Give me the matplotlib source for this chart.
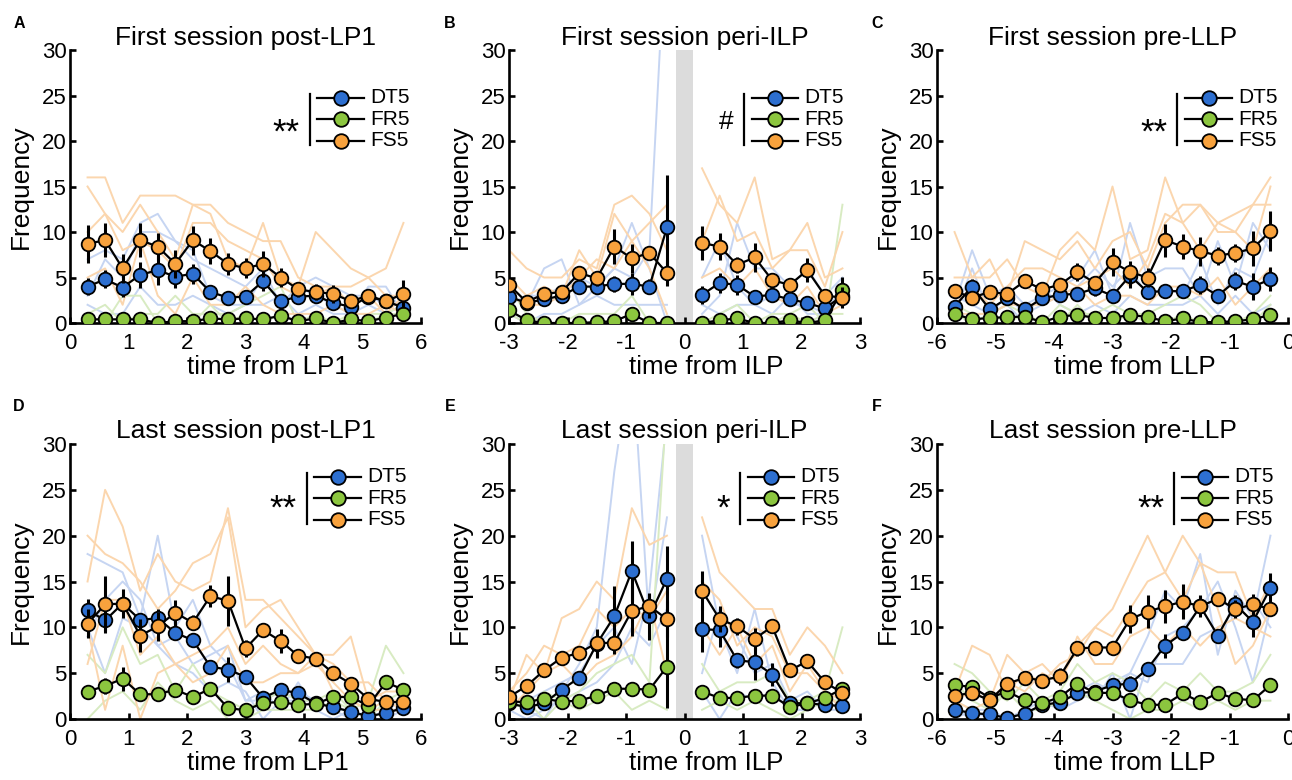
import numpy as np
import matplotlib.pyplot as plt

plt.rcParams['font.family'] = ['Liberation Sans', 'DejaVu Sans']
plt.rcParams['axes.unicode_minus'] = False

# time bins
x_post = [0.3, 0.6, 0.9, 1.2, 1.5, 1.8, 2.1, 2.4, 2.7, 3.0, 3.3, 3.6, 3.9, 4.2, 4.5, 4.8, 5.1, 5.4, 5.7]
x_peri = [-3.0, -2.7, -2.4, -2.1, -1.8, -1.5, -1.2, -0.9, -0.6, -0.3,
          0.3, 0.6, 0.9, 1.2, 1.5, 1.8, 2.1, 2.4, 2.7]
x_pre = [-5.7, -5.4, -5.1, -4.8, -4.5, -4.2, -3.9, -3.6, -3.3, -3.0,
         -2.7, -2.4, -2.1, -1.8, -1.5, -1.2, -0.9, -0.6, -0.3]

groups = ['DT5', 'FR5', 'FS5']

# ---- A: first session post-LP1
A_dt5 = [4.0, 4.8, 3.9, 5.3, 5.8, 5.1, 5.4, 3.4, 2.8, 2.9, 4.6, 2.4, 2.9, 3.0, 2.2, 1.8, 2.9, 2.4, 1.7]
A_dt5_sem = [0.9, 1.0, 1.0, 1.4, 1.6, 1.2, 1.1, 0.5, 0.5, 0.5, 1.1, 0.5, 0.6, 0.6, 0.7, 0.5, 0.5, 0.5, 0.5]
A_fr5 = [0.4, 0.4, 0.4, 0.4, 0.0, 0.2, 0.2, 0.5, 0.4, 0.5, 0.4, 0.8, 0.2, 0.5, 0.0, 0.4, 0.2, 0.6, 1.0]
A_fr5_sem = [0.2, 0.3, 0.2, 0.3, 0.1, 0.2, 0.2, 0.3, 0.2, 0.3, 0.2, 0.4, 0.2, 0.3, 0.1, 0.3, 0.2, 0.3, 0.4]
A_fs5 = [8.7, 9.1, 6.0, 9.1, 8.4, 6.5, 9.1, 7.9, 6.5, 6.0, 6.5, 5.0, 3.7, 3.4, 3.2, 2.4, 3.0, 2.4, 3.2]
A_fs5_sem = [2.1, 1.9, 1.6, 1.9, 1.5, 1.5, 1.6, 1.4, 1.2, 1.1, 1.4, 1.0, 0.8, 0.9, 1.0, 0.7, 0.6, 0.7, 1.5]
A_dt5_ind = [[7, 8, 7, 11, 12, 9, 8, 3, 2, 2, 5, 2, 4, 5, 4, 3, 3, 2, 2],
             [3, 7, 5, 10, 10, 9, 7, 6, 5, 4, 6, 2, 4, 3, 2, 1, 4, 4, 1],
             [2, 1, 1, 4, 2, 2, 3, 2, 1, 2, 2, 3, 1, 2, 1, 1, 2, 1, 2]]
A_fr5_ind = [[1, 2, 0, 1, 1, 3, 1, 1, 1, 2, 3, 4, 0, 1, 0, 1, 1, 1, 2],
             [0, 0, 3, 3, 0, 0, 0, 2, 0, 1, 0, 1, 0, 0, 0, 0, 0, 1, 1]]
A_fs5_ind = [[16, 16, 11, 14, 14, 14, 13, 13, 11, 10, 9, 9, 5, 4, 4, 4, 5, 3, 3],
             [15, 12, 10, 13, 10, 7, 13, 12, 7, 6, 11, 5, 4, 10, 8, 6, 5, 6, 11],
             [10, 12, 8, 9, 8, 6, 11, 11, 9, 8, 7, 4, 3, 3, 4, 2, 3, 1, 3],
             [5, 6, 2, 9, 3, 1, 5, 2, 2, 4, 2, 1, 1, 1, 2, 1, 1, 2, 1]]

# ---- B: first session peri-ILP
B_dt5 = [2.9, 2.2, 2.6, 3.0, 4.0, 4.0, 4.3, 4.3, 4.0, 10.5, 3.1, 4.4, 4.2, 2.9, 3.1, 2.6, 2.2, 1.6, 3.0]
B_dt5_sem = [0.6, 0.5, 0.6, 0.6, 0.7, 0.8, 0.9, 1.2, 0.8, 5.8, 1.0, 1.1, 1.1, 0.6, 0.6, 0.5, 0.6, 0.6, 0.6]
B_fr5 = [1.4, 0.3, 0.0, 0.0, 0.0, 0.1, 0.2, 1.0, 0.0, 0.0, 0.0, 0.3, 0.5, 0.0, 0.0, 0.3, 0.0, 0.3, 3.6]
B_fr5_sem = [0.5, 0.2, 0.1, 0.1, 0.1, 0.1, 0.2, 0.4, 0.1, 0.1, 0.1, 0.2, 0.3, 0.1, 0.1, 0.2, 0.1, 0.2, 1.5]
B_fs5 = [4.2, 2.3, 3.2, 3.4, 5.5, 4.9, 8.4, 7.1, 7.7, 5.5, 8.8, 8.4, 6.4, 7.2, 4.7, 4.2, 5.8, 3.0, 2.8]
B_fs5_sem = [0.6, 0.5, 0.5, 0.5, 0.8, 0.8, 1.9, 1.6, 0.8, 1.4, 1.9, 1.5, 0.9, 1.6, 0.8, 0.6, 1.3, 0.6, 1.2]
B_dt5_ind = [[2, 3, 3, 4, 5, 4, 6, 5, 8, 45, 1, 3, 11, 6, 6, 4, 6, 3, 5],
             [3, 2, 6, 7, 2, 4, 6, 11, 6, 0, 5, 9, 4, 2, 3, 2, 2, 1, 3],
             [1, 0, 1, 1, 2, 3, 2, 2, 2, 2, 2, 1, 2, 2, 1, 3, 1, 1, 4]]
B_fr5_ind = [[4, 1, 0, 0, 1, 1, 1, 3, 0, 0, 0, 1, 2, 0, 1, 1, 2, 0, 13],
             [1, 0, 0, 0, 0, 0, 0, 0, 0, 0, 0, 0, 0, 0, 0, 1, 0, 1, 1]]
B_fs5_ind = [[8, 6, 5, 5, 7, 6, 13, 14, 12, 8, 17, 13, 11, 16, 7, 8, 11, 5, 6],
             [5, 3, 4, 3, 8, 5, 12, 9, 11, 13, 9, 14, 9, 10, 6, 8, 8, 4, 10],
             [3, 2, 2, 3, 5, 7, 6, 9, 6, 1, 5, 6, 4, 6, 3, 2, 4, 1, 2]]

# ---- C: first session pre-LLP
C_dt5 = [1.8, 4.0, 1.5, 2.7, 1.5, 2.7, 3.1, 3.2, 3.8, 3.0, 5.2, 3.4, 3.5, 3.5, 4.2, 3.0, 4.6, 4.0, 4.8]
C_dt5_sem = [0.6, 0.8, 0.5, 0.6, 0.5, 0.6, 0.7, 0.7, 0.8, 0.7, 1.3, 0.7, 0.8, 0.7, 1.0, 0.6, 1.0, 1.5, 1.3]
C_fr5 = [1.0, 0.4, 0.55, 0.65, 0.7, 0.1, 0.7, 0.9, 0.55, 0.55, 0.9, 0.65, 0.2, 0.5, 0.1, 0.1, 0.2, 0.4, 0.9]
C_fr5_sem = [0.4, 0.2, 0.3, 0.3, 0.3, 0.1, 0.3, 0.3, 0.3, 0.3, 0.3, 0.3, 0.2, 0.3, 0.1, 0.1, 0.2, 0.2, 0.4]
C_fs5 = [3.5, 2.8, 3.4, 3.2, 4.6, 3.7, 4.2, 5.6, 4.4, 6.7, 5.6, 5.0, 9.1, 8.4, 7.9, 7.4, 7.7, 8.2, 10.1]
C_fs5_sem = [0.8, 0.7, 0.6, 0.6, 0.8, 0.7, 0.8, 1.0, 0.8, 1.5, 1.2, 1.0, 1.8, 1.4, 1.6, 1.0, 1.0, 1.9, 2.2]
C_dt5_ind = [[2, 8, 3, 4, 2, 3, 4, 5, 8, 3, 11, 5, 6, 6, 3, 9, 4, 11, 8],
             [1, 6, 1, 3, 1, 2, 3, 4, 6, 4, 6, 3, 4, 3, 7, 2, 6, 5, 10],
             [3, 2, 1, 2, 0, 4, 2, 1, 2, 1, 3, 2, 2, 2, 3, 1, 3, 1, 2]]
C_fr5_ind = [[2, 1, 1, 2, 1, 0, 2, 1, 1, 2, 1, 1, 2, 3, 2, 0, 0, 0, 2],
             [1, 0, 1, 0, 1, 0, 0, 2, 0, 0, 1, 0, 0, 1, 0, 0, 0, 1, 3]]
C_fs5_ind = [[10, 5, 5, 7, 4, 3, 8, 10, 8, 15, 7, 8, 16, 11, 13, 11, 12, 13, 16],
             [5, 5, 7, 3, 9, 8, 7, 9, 6, 9, 10, 6, 11, 13, 13, 10, 10, 8, 15],
             [2, 4, 2, 4, 6, 6, 5, 4, 5, 6, 4, 7, 12, 11, 8, 11, 10, 13, 13],
             [1, 1, 1, 2, 2, 2, 3, 4, 2, 3, 3, 2, 4, 4, 3, 5, 2, 4, 6]]

# ---- D: last session post-LP1
D_dt5 = [11.9, 10.75, 12.6, 10.8, 11.0, 9.4, 8.6, 5.7, 5.4, 4.6, 2.3, 3.2, 2.8, 1.7, 1.3, 0.8, 0.3, 0.65, 1.2]
D_dt5_sem = [1.2, 1.2, 1.0, 0.8, 1.0, 0.7, 0.6, 0.5, 1.4, 0.6, 0.4, 0.5, 0.5, 0.4, 0.4, 0.4, 0.3, 0.4, 0.4]
D_fr5 = [3.0, 3.6, 4.4, 2.7, 2.7, 3.2, 2.4, 3.3, 1.2, 0.95, 1.75, 1.85, 1.55, 1.65, 2.4, 2.4, 1.45, 4.0, 3.2]
D_fr5_sem = [0.7, 0.9, 1.3, 0.5, 0.6, 0.5, 0.7, 0.5, 0.4, 0.4, 0.4, 0.4, 0.4, 0.4, 0.4, 0.4, 0.4, 0.7, 0.5]
D_fs5 = [10.4, 12.5, 12.6, 9.1, 10.1, 11.6, 10.5, 13.4, 12.9, 7.7, 9.7, 8.5, 6.9, 6.6, 5.0, 3.85, 2.2, 1.85, 1.85]
D_fs5_sem = [1.6, 3.1, 1.6, 1.8, 1.6, 1.4, 0.8, 1.2, 2.7, 0.9, 0.5, 1.3, 0.7, 0.4, 0.4, 0.7, 0.6, 0.6, 0.6]
D_dt5_ind = [[18, 17, 16, 11, 20, 10, 13, 8, 6, 2, 2, 3, 3, 2, 1, 1, 0, 0, 1],
             [9, 13, 15, 13, 8, 9, 6, 7, 8, 2, 3, 1, 4, 1, 0, 1, 0, 1, 2],
             [10, 5, 11, 10, 8, 6, 5, 3, 4, 3, 0, 2, 2, 2, 1, 0, 1, 1, 1]]
D_fr5_ind = [[7, 5, 10, 6, 7, 3, 6, 3, 2, 1, 2, 3, 2, 2, 3, 1, 2, 8, 5],
             [0, 2, 3, 1, 4, 2, 1, 2, 0, 0, 1, 1, 1, 1, 2, 1, 0, 2, 3]]
D_fs5_ind = [[15, 25, 21, 14, 18, 15, 14, 15, 23, 13, 13, 11, 9, 7, 7, 9, 2, 3, 3],
             [20, 18, 17, 15, 12, 14, 17, 18, 22, 10, 12, 13, 10, 7, 6, 4, 4, 2, 1],
             [6, 13, 13, 7, 9, 6, 7, 8, 10, 6, 8, 6, 5, 7, 3, 2, 1, 2, 2],
             [10, 1, 8, 0, 5, 6, 4, 5, 8, 4, 4, 5, 5, 6, 4, 2, 1, 1, 1]]

# ---- E: last session peri-ILP
E_dt5 = [1.7, 1.3, 1.7, 3.2, 4.5, 8.2, 11.2, 16.15, 11.2, 15.3, 9.8, 9.7, 6.4, 6.2, 4.85, 1.75, 1.7, 1.55, 1.4]
E_dt5_sem = [0.4, 0.4, 0.4, 0.6, 0.7, 1.5, 3.3, 3.3, 2.6, 3.6, 2.5, 1.8, 0.8, 1.9, 1.3, 0.4, 0.4, 0.4, 0.4]
E_fr5 = [1.9, 1.85, 2.2, 1.9, 2.0, 2.55, 3.3, 3.3, 3.2, 5.7, 3.0, 2.3, 2.3, 2.55, 2.55, 1.3, 1.7, 2.3, 3.3]
E_fr5_sem = [0.4, 0.4, 0.4, 0.4, 0.4, 0.4, 0.6, 0.5, 0.7, 4.5, 0.4, 0.4, 0.4, 0.4, 0.4, 0.4, 0.4, 0.4, 0.4]
E_fs5 = [2.4, 3.6, 5.3, 6.7, 7.2, 8.3, 8.3, 11.8, 12.3, 10.9, 14.0, 10.9, 10.1, 8.75, 10.1, 5.3, 6.3, 4.0, 2.85]
E_fs5_sem = [0.5, 0.6, 0.6, 0.6, 0.8, 1.5, 1.2, 2.7, 1.3, 2.0, 2.1, 1.4, 0.9, 1.2, 0.6, 0.6, 0.6, 0.7, 0.8]
E_dt5_ind = [[2, 1, 0, 3, 6, 10, 27, 40, 10, 22, 20, 10, 5, 12, 4, 1, 1, 2, 2],
             [1, 2, 3, 4, 5, 8, 10, 6, 14, 33, 5, 12, 9, 5, 6, 2, 3, 1, 1],
             [1, 0, 1, 2, 3, 4, 6, 10, 8, 12, 3, 0, 3, 2, 3, 1, 1, 2, 1]]
E_fr5_ind = [[2, 1, 3, 2, 3, 5, 6, 7, 4, 35, 6, 3, 4, 4, 5, 2, 2, 3, 10],
             [1, 2, 0, 2, 1, 2, 3, 1, 2, 1, 1, 2, 1, 2, 1, 0, 1, 2, 2]]
E_fs5_ind = [[2, 7, 5, 11, 12, 15, 13, 23, 19, 20, 22, 16, 14, 12, 12, 7, 10, 8, 5],
             [3, 5, 8, 7, 8, 12, 10, 12, 11, 14, 15, 13, 8, 10, 9, 5, 5, 3, 2],
             [1, 3, 5, 6, 4, 6, 7, 9, 13, 5, 10, 7, 10, 6, 8, 3, 6, 3, 1]]

# ---- F: last session pre-LLP
F_dt5 = [1.0, 0.65, 0.5, 0.1, 0.6, 1.55, 1.8, 2.8, 3.0, 3.7, 3.85, 5.5, 8.0, 9.4, 12.3, 9.1, 12.5, 10.6, 14.3]
F_dt5_sem = [0.4, 0.4, 0.3, 0.2, 0.4, 0.4, 0.4, 0.5, 0.5, 0.6, 0.8, 0.6, 1.3, 0.7, 1.0, 0.6, 1.0, 1.7, 1.6]
F_fr5 = [3.7, 3.5, 2.3, 3.0, 2.05, 1.7, 2.4, 3.85, 2.85, 2.85, 2.05, 1.55, 1.55, 2.8, 1.85, 2.85, 2.2, 2.05, 3.7]
F_fr5_sem = [0.4, 0.5, 0.4, 0.4, 0.4, 0.4, 0.4, 0.5, 0.5, 0.4, 0.4, 0.3, 0.3, 0.4, 0.4, 0.4, 0.4, 0.3, 0.5]
F_fs5 = [2.55, 2.85, 2.05, 3.85, 4.5, 4.2, 4.65, 7.7, 7.8, 7.8, 10.9, 11.7, 12.3, 12.8, 12.3, 13.1, 12.0, 12.5, 12.0]
F_fs5_sem = [0.6, 0.6, 0.5, 0.6, 0.6, 0.7, 0.9, 0.8, 0.5, 0.6, 1.5, 1.8, 1.8, 1.9, 1.2, 0.5, 1.0, 1.1, 0.8]
F_dt5_ind = [[0, 1, 0, 0, 1, 2, 2, 3, 4, 3, 5, 9, 14, 12, 18, 7, 14, 11, 20],
             [2, 1, 1, 0, 0, 2, 1, 2, 3, 4, 5, 4, 9, 10, 12, 15, 10, 4, 12],
             [1, 0, 1, 0, 1, 1, 2, 3, 2, 5, 0, 6, 6, 6, 9, 10, 11, 13, 10]]
F_fr5_ind = [[6, 5, 3, 2, 4, 2, 3, 6, 4, 5, 4, 2, 4, 3, 5, 3, 3, 4, 7],
             [4, 2, 1, 3, 1, 1, 2, 3, 2, 1, 0, 1, 1, 2, 1, 2, 1, 2, 2]]
F_fs5_ind = [[3, 8, 7, 3, 5, 6, 4, 8, 10, 12, 16, 20, 16, 20, 17, 16, 16, 11, 15],
             [2, 3, 2, 7, 5, 4, 6, 7, 10, 9, 12, 15, 16, 13, 17, 12, 6, 8, 12],
             [2, 1, 2, 4, 3, 5, 4, 9, 6, 6, 9, 10, 8, 10, 8, 10, 11, 10, 9]]

colors = {'DT5': '#2d6fd0', 'FR5': '#8cc63f', 'FS5': '#f8a23d'}
faint = {'DT5': '#c6d5f2', 'FR5': '#d8ebc2', 'FS5': '#fbd6ae'}
zord = {'DT5': 3, 'FR5': 4, 'FS5': 5}

# (letter, title, xlabel, x, xlim, means, sems, individual traces, stat mark, legend x, row)
panels = [
    ('A', 'First session post-LP1', 'time from LP1', x_post, (0, 6),
     [A_dt5, A_fr5, A_fs5], [A_dt5_sem, A_fr5_sem, A_fs5_sem], [A_dt5_ind, A_fr5_ind, A_fs5_ind], '**', 0.705, 0),
    ('B', 'First session peri-ILP', 'time from ILP', x_peri, (-3, 3),
     [B_dt5, B_fr5, B_fs5], [B_dt5_sem, B_fr5_sem, B_fs5_sem], [B_dt5_ind, B_fr5_ind, B_fs5_ind], '#', 0.691, 0),
    ('C', 'First session pre-LLP', 'time from LLP', x_pre, (-6, 0),
     [C_dt5, C_fr5, C_fs5], [C_dt5_sem, C_fr5_sem, C_fs5_sem], [C_dt5_ind, C_fr5_ind, C_fs5_ind], '**', 0.707, 0),
    ('D', 'Last session post-LP1', 'time from LP1', x_post, (0, 6),
     [D_dt5, D_fr5, D_fs5], [D_dt5_sem, D_fr5_sem, D_fs5_sem], [D_dt5_ind, D_fr5_ind, D_fs5_ind], '**', 0.696, 1),
    ('E', 'Last session peri-ILP', 'time from ILP', x_peri, (-3, 3),
     [E_dt5, E_fr5, E_fs5], [E_dt5_sem, E_fr5_sem, E_fs5_sem], [E_dt5_ind, E_fr5_ind, E_fs5_ind], '*', 0.680, 1),
    ('F', 'Last session pre-LLP', 'time from LLP', x_pre, (-6, 0),
     [F_dt5, F_fr5, F_fs5], [F_dt5_sem, F_fr5_sem, F_fs5_sem], [F_dt5_ind, F_fr5_ind, F_fs5_ind], '**', 0.697, 1),
]

W, H = 1292, 780
fig = plt.figure(figsize=(W / 100, H / 100), dpi=100)

lefts = [70, 509, 937]
letter_x = [19, 450, 877]
rows = [(50, 323), (444, 719)]
letter_y = [23, 406]
leg_rows = [(0.825, 0.746, 0.667), (0.881, 0.803, 0.724)]
star_y = [0.662, 0.730]
ax_w = 351

for i, (letter, title, xlab, x, xlim, means, sems, inds, mark, lx, r) in enumerate(panels):
    top, bot = rows[r]
    left = lefts[i % 3]
    ax = fig.add_axes([left / W, 1 - bot / H, ax_w / W, (bot - top) / H])
    x = np.array(x)

    if xlim[0] < 0 < xlim[1]:
        ax.axvspan(-0.15, 0.15, color='#dcdcdc', lw=0, zorder=0)

    for g, m, s, ind in zip(groups, means, sems, inds):
        m = np.array(m)
        s = np.array(s)
        for mask in (x < 0, x > 0):
            if not mask.any():
                continue
            for tr in ind:
                ax.plot(x[mask], np.array(tr)[mask], color=faint[g], lw=1.4, zorder=1)
        for mask in (x < 0, x > 0):
            if not mask.any():
                continue
            ax.vlines(x[mask], (m - s)[mask], (m + s)[mask], color='k', lw=2.2, zorder=zord[g])
            ax.plot(x[mask], m[mask], '-o', color='k', lw=1.6, ms=9.8,
                    mfc=colors[g], mec='k', mew=1.3, zorder=zord[g] + 0.1)

    ax.set_xlim(xlim)
    ax.set_ylim(0, 30)
    ax.set_xticks(np.arange(xlim[0], xlim[1] + 1))
    ax.set_yticks([0, 5, 10, 15, 20, 25, 30])
    for side in ('top', 'right'):
        ax.spines[side].set_visible(False)
    for side in ('left', 'bottom'):
        ax.spines[side].set_linewidth(1.9)
    ax.tick_params(direction='in', length=4, width=1.9, labelsize=16)
    ax.tick_params(axis='x', pad=7)
    ax.tick_params(axis='y', pad=2.5)
    ax.set_title(title, fontsize=19, pad=2 if r == 0 else 4)
    ax.set_xlabel(xlab, fontsize=18.7)
    ax.xaxis.set_label_coords(0.563, -0.118)
    ax.set_ylabel('Frequency', fontsize=19)
    ax.yaxis.set_label_coords(-0.105, 0.5)

    # legend drawn in axes coordinates
    ys = leg_rows[r]
    for g, yy in zip(groups, ys):
        ax.plot([lx, lx + 0.133], [yy, yy], color='k', lw=1.6, transform=ax.transAxes,
                clip_on=False, zorder=6)
        ax.plot([lx + 0.067], [yy], 'o', ms=10.5, mfc=colors[g], mec='k', mew=1.3,
                transform=ax.transAxes, clip_on=False, zorder=7)
        ax.text(lx + 0.150, yy, g, transform=ax.transAxes, fontsize=15,
                va='center', ha='left')
    bx = lx - 0.022
    ax.plot([bx, bx], [ys[0] + 0.012, ys[2] - 0.015], color='k', lw=1.6,
            transform=ax.transAxes, clip_on=False)
    if '*' in mark:
        ax.text(bx - 0.028, star_y[r], mark, transform=ax.transAxes, fontsize=25,
                va='baseline', ha='right')
    else:
        ax.text(bx - 0.03, ys[1] - 0.008, mark, transform=ax.transAxes, fontsize=19,
                va='center', ha='right')

    fig.text(letter_x[i % 3] / W, 1 - letter_y[r] / H, letter, fontsize=11.5,
             fontweight='bold', ha='center', va='center')

fig.savefig('out.png', dpi=100)
